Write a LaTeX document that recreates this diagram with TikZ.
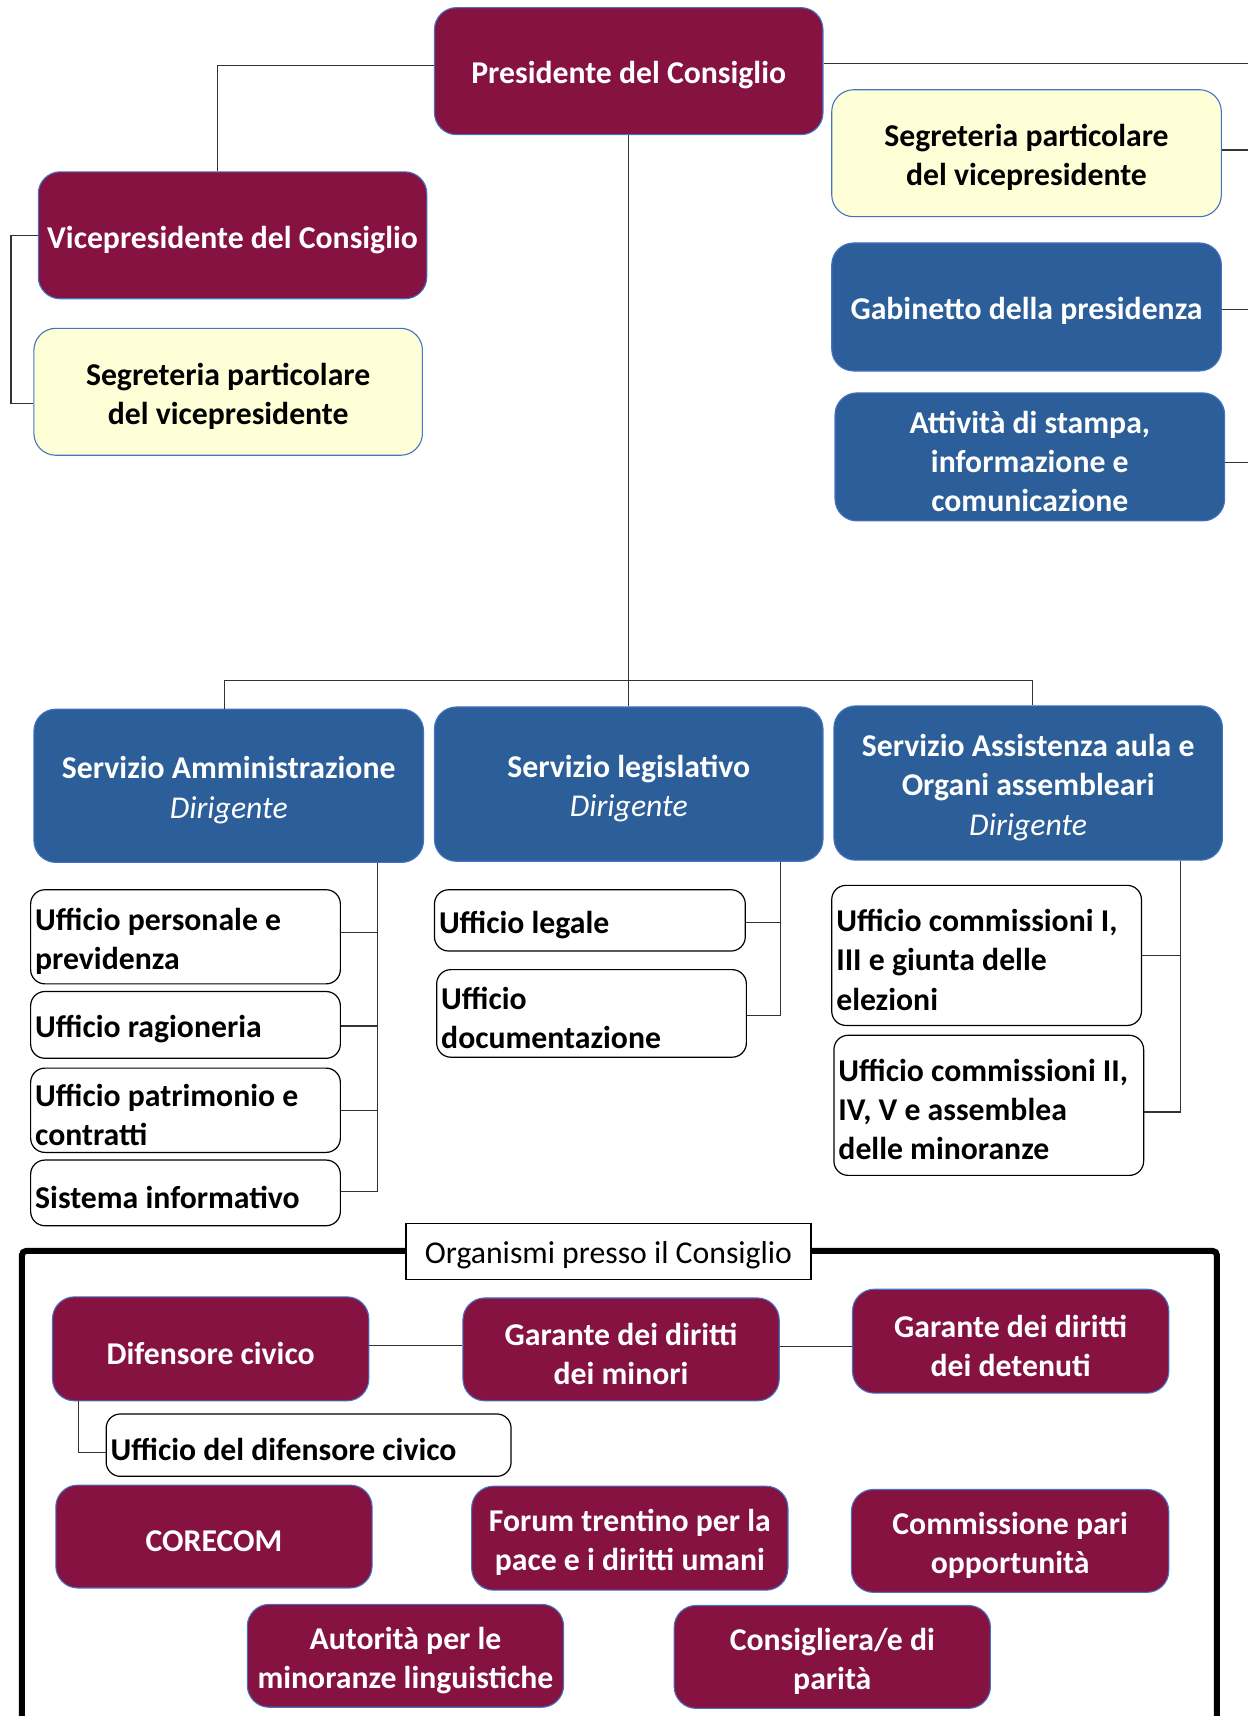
\documentclass[tikz,border=0pt]{standalone}
\usepackage{fontspec}
\setmainfont{Carlito}
\definecolor{maroon}{HTML}{861241}
\definecolor{sblue}{HTML}{2C5F99}
\definecolor{syel}{HTML}{FFFFD7}
\definecolor{bord}{HTML}{4472C4}
\definecolor{conn}{HTML}{333333}
\tikzset{
  base/.style={rounded corners=20pt, line width=1pt, draw=bord, inner sep=0pt},
  mbox/.style={base, fill=maroon},
  bbox/.style={base, fill=sblue},
  ybox/.style={base, fill=syel},
  wbox/.style={rounded corners=13pt, line width=1.1pt, draw=black, fill=white, inner sep=0pt},
  txt/.style={font=\fontsize{29}{35.8}\selectfont\bfseries, inner sep=0pt},
  mboxt/.style={txt, text=white, align=center},
  bboxt/.style={txt, text=white, align=center},
  yboxt/.style={txt, text=black, align=center},
  wboxt/.style={txt, text=black, align=left, anchor=west},
  cn/.style={draw=conn, line width=1.1pt},
}
\newcommand\bx[7]{\node[#6, minimum width={(#4-#2)*1pt}, minimum height={(#5-#3)*1pt}] (#1) at ({(#2+#4)/2},{(#3+#5)/2}) {};
  \node[#6t] (#1-t) at ([yshift=-4pt]#1.center) {#7};}
\newcommand\wb[6]{\node[wbox, minimum width={(#4-#2)*1pt}, minimum height={(#5-#3)*1pt}] (#1) at ({(#2+#4)/2},{(#3+#5)/2}) {};
  \node[wboxt] (#1-t) at ([xshift=4.5pt,yshift=-4pt]#1.west) {#6};}
\begin{document}
\begin{tikzpicture}[x=1pt,y=-1pt]
\fill[white] (0,0) rectangle (1140,1568);
\useasboundingbox (0,0) rectangle (1140,1568);
% top
\bx{pres}{397}{7}{752}{123}{mbox}{Presidente del Consiglio}
\bx{vice}{35}{157}{390}{273}{mbox}{Vicepresidente del Consiglio}
\bx{segL}{31}{300}{386}{416}{ybox}{Segreteria particolare\\del vicepresidente}
\bx{segR}{760}{82}{1116}{198}{ybox}{Segreteria particolare\\del vicepresidente}
\bx{gab}{760}{222}{1116}{339}{bbox}{Gabinetto della presidenza}
\bx{att}{763}{359}{1119}{476}{bbox}{Attività di stampa,\\informazione e\\comunicazione}
\coordinate (rx) at (1140,58);
\coordinate (lx) at (10,0);
\draw[cn] ([yshift=5pt]pres.west) -| ([xshift=-14pt]vice.north);
\draw[cn] (pres.east |- rx) -- (rx);
\draw[cn] ([yshift=3pt]segR.east) -- ([yshift=3pt]segR.east -| rx);
\draw[cn] ([yshift=-2pt]gab.east) -- ([yshift=-2pt]gab.east -| rx);
\draw[cn] ([yshift=-5pt]att.east) -- ([yshift=-5pt]att.east -| rx);
\draw[cn] (vice.west) -- (vice.west -| lx) |- ([yshift=-11pt]segL.west);
% servizi
\bx{sa}{31}{648}{387}{788}{bbox}{Servizio Amministrazione\\{\mdseries\itshape Dirigente}}
\bx{sl}{397}{646}{752}{787}{bbox}{Servizio legislativo\\{\mdseries\itshape Dirigente}}
\bx{sc}{762}{645}{1117}{786}{bbox}{Servizio Assistenza aula e\\Organi assembleari\\{\mdseries\itshape Dirigente}}
\coordinate (bus) at (573,622);
\draw[cn] (pres.south) -- (sl.north);
\draw[cn] ([xshift=-4pt]sa.north) |- (bus) -| ([xshift=4pt]sc.north);
% uffici col 1
\wb{u1}{28}{813}{311}{899}{Ufficio personale e\\previdenza}
\wb{u2}{28}{906}{311}{967}{Ufficio ragioneria}
\wb{u3}{28}{976}{311}{1053}{Ufficio patrimonio e\\contratti}
\wb{u4}{28}{1060}{311}{1120}{Sistema informativo}
\coordinate (c1) at (345,0);
\draw[cn] (c1 |- sa.south) |- ([yshift=1pt]u4.east);
\draw[cn] ([yshift=4pt]u1.east) -- ([yshift=4pt]u1.east -| c1);
\draw[cn] ([yshift=-1pt]u2.east) -- ([yshift=-1pt]u2.east -| c1);
\draw[cn] (u3.east) -- (u3.east -| c1);
% col 2
\wb{l1}{397}{813}{681}{869}{Ufficio legale}
\wb{l2}{399}{886}{682}{966}{Ufficio\\documentazione}
\coordinate (c2) at (713,0);
\draw[cn] (c2 |- sl.south) |- ([yshift=-2pt]l2.east);
\draw[cn] ([yshift=-2pt]l1.east) -- ([yshift=-2pt]l1.east -| c2);
% col 3
\wb{k1}{760}{809}{1043}{937}{Ufficio commissioni I,\\III e giunta delle\\elezioni}
\wb{k2}{762}{946}{1045}{1074}{Ufficio commissioni II,\\IV, V e assemblea\\delle minoranze}
\coordinate (c3) at (1079,0);
\draw[cn] (c3 |- sc.south) |- ([yshift=-6pt]k2.east);
\draw[cn] (k1.east) -- (k1.east -| c3);
% frame
\draw[line width=5.5pt, rounded corners=4pt] (20,1572) -- (20,1143) -- (1112,1143) -- (1112,1572);
\node[draw=black, fill=white, line width=1pt, minimum width=370pt, minimum height=51pt] (org) at (556,1143.5) {};
\node[font=\fontsize{29}{35.8}\selectfont, inner sep=0pt] (org-t) at ([yshift=-3pt]org.center) {Organismi presso il Consiglio};
% organismi
\bx{dif}{48}{1185}{337}{1280}{mbox}{Difensore civico}
\bx{gm}{423}{1186}{712}{1280}{mbox}{Garante dei diritti\\dei minori}
\bx{gd}{779}{1178}{1068}{1273}{mbox}{Garante dei diritti\\dei detenuti}
\draw[cn] ([yshift=3pt]dif.east) -- ([yshift=3pt]dif.east -| gm.west);
\draw[cn] ([yshift=3pt]gm.east) -- ([yshift=3pt]gm.east -| gd.west);
\wb{udc}{97}{1292}{467}{1349}{Ufficio del difensore civico}
\draw[cn] (dif.south -| 72,0) |- ([yshift=-7pt]udc.west);
\bx{cor}{51}{1357}{340}{1451}{mbox}{CORECOM}
\bx{for}{431}{1358}{720}{1453}{mbox}{Forum trentino per la\\pace e i diritti umani}
\bx{cpo}{778}{1361}{1068}{1455}{mbox}{Commissione pari\\opportunità}
\bx{aut}{226}{1466}{515}{1560}{mbox}{Autorità per le\\minoranze linguistiche}
\bx{cons}{616}{1467}{905}{1561}{mbox}{Consigliera/e di\\parità}
\end{tikzpicture}
\end{document}
